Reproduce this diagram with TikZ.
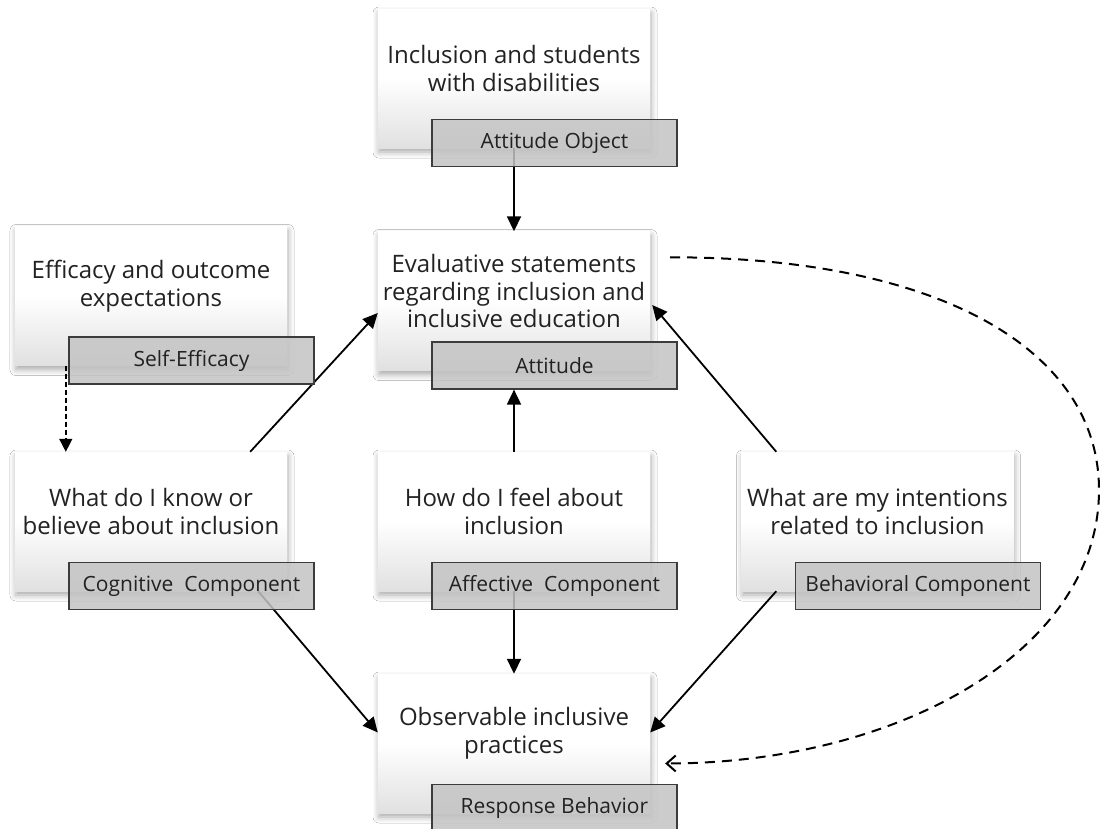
\documentclass[tikz,border=0pt]{standalone}
\usepackage{fontspec}
\setmainfont{Open Sans}
\usetikzlibrary{arrows.meta,calc,shadows.blur}
\definecolor{txt}{HTML}{222222}
\definecolor{lfill}{HTML}{C4C4C4}
\definecolor{ldraw}{HTML}{3C3C3C}
\begin{document}
\begin{tikzpicture}[x=1pt,y=-1pt,
  wbox/.style={minimum width=272pt, minimum height=139pt, inner sep=0pt,
    top color=white, bottom color=black!12, middle color=white,
    blur shadow={shadow xshift=1pt, shadow yshift=-4pt, shadow blur radius=6pt, shadow opacity=35}},
  wtext/.style={align=center, font=\fontsize{24}{27.5}\selectfont, text=txt},
  lbox/.style={minimum width=245pt, minimum height=47pt, inner sep=0pt,
    draw=ldraw, line width=1.2pt, fill=lfill, fill opacity=0.85, text opacity=1,
    font=\fontsize{21}{24}\selectfont, text=txt},
  arr/.style={line width=1.8pt, draw=black, -{Triangle[length=15pt,width=14pt]}},
  darr/.style={line width=1.4pt, draw=black, dash pattern=on 5pt off 3pt, -{Triangle[length=13pt,width=13pt]}},
  bigdash/.style={line width=2pt, draw=black, dash pattern=on 10pt off 7pt, -{Straight Barb[length=9pt,width=16pt,line width=2pt]}}
]
\useasboundingbox (0,0) rectangle (1101,828);
\fill[white] (0,0) rectangle (1101,828);

% white boxes
\node[wbox] (obj)  at (514,78.5) {};
\node[wbox] (att)  at (514,301) {};
\node[wbox] (eff)  at (151,296) {};
\node[wbox] (cog)  at (151,521.5) {};
\node[wbox] (aff)  at (514,521.5) {};
\node[wbox] (beh)  at (877.5,521.5) {};
\node[wbox] (resp) at (514,743.5) {};

% texts
\node[wtext] (objt)  at ($(obj.center)+(0,-10)$) {Inclusion and students\\with disabilities};
\node[wtext] (attt)  at ($(att.center)+(0,-10)$) {Evaluative statements\\regarding inclusion and\\inclusive education};
\node[wtext] (efft)  at ($(eff.center)+(0,-10)$) {Efficacy and outcome\\expectations};
\node[wtext] (cogt)  at ($(cog.center)+(0,-10)$) {What do I know or\\believe about inclusion};
\node[wtext] (afft)  at ($(aff.center)+(0,-10)$) {How do I feel about\\inclusion};
\node[wtext] (beht)  at ($(beh.center)+(0,-10)$) {What are my intentions\\related to inclusion};
\node[wtext] (respt) at ($(resp.center)+(0,-10)$) {Observable inclusive\\practices};

% connector points
\coordinate (cogA) at ($(cog.north east)+(-37,0)$);
\coordinate (attA) at ($(att.west)+(0,12)$);
\coordinate (behA) at ($(beh.north west)+(35,0)$);
\coordinate (attB) at ($(att.east)+(2,4)$);
\coordinate (cogB) at ($(cog.south east)+(-29,0)$);
\coordinate (respA) at ($(resp.west)+(0,-11)$);
\coordinate (behB) at ($(beh.south west)+(35,0)$);
\coordinate (respB) at ($(resp.east)+(0,-11)$);
\coordinate (effA) at ($(eff.south west)+(51,0)$);
\coordinate (dstart) at ($(att.north east)+(20,26)$);
\coordinate (dmid) at (1099,490);
\coordinate (dend) at ($(resp.east)+(15,20)$);

% arrows
\draw[arr] (obj.south) -- (att.north);
\draw[arr] (cogA) -- (attA);
\draw[arr] (behA) -- (attB);
\draw[arr] (aff.south) -- (resp.north);
\draw[arr] (cogB) -- (respA);
\draw[arr] (behB) -- (respB);
\draw[darr] (effA) -- (effA |- cog.north);
\draw[bigdash] (dstart) .. controls (940,257) and (1099,350) .. (dmid)
  .. controls (1099,650) and (900,763) .. (dend);

% label boxes
\node[lbox] (objl)  at ($(obj.center)+(40.5,64.5)$) {Attitude Object};
\node[lbox] (attl)  at ($(att.center)+(40.5,64.5)$) {Attitude};
\node[lbox] (effl)  at ($(eff.center)+(40.5,64.5)$) {Self-Efficacy};
\node[lbox] (cogl)  at ($(cog.center)+(40.5,64.5)$) {Cognitive\ \ Component};
\node[lbox] (affl)  at ($(aff.center)+(40.5,64.5)$) {Affective\ \ Component};
\node[lbox] (behl)  at ($(beh.center)+(40.5,64.5)$) {Behavioral Component};
\node[lbox] (respl) at ($(resp.center)+(40.5,64.5)$) {Response Behavior};

\draw[arr] (aff.north) -- (aff.north |- attl.south);
\end{tikzpicture}
\end{document}
